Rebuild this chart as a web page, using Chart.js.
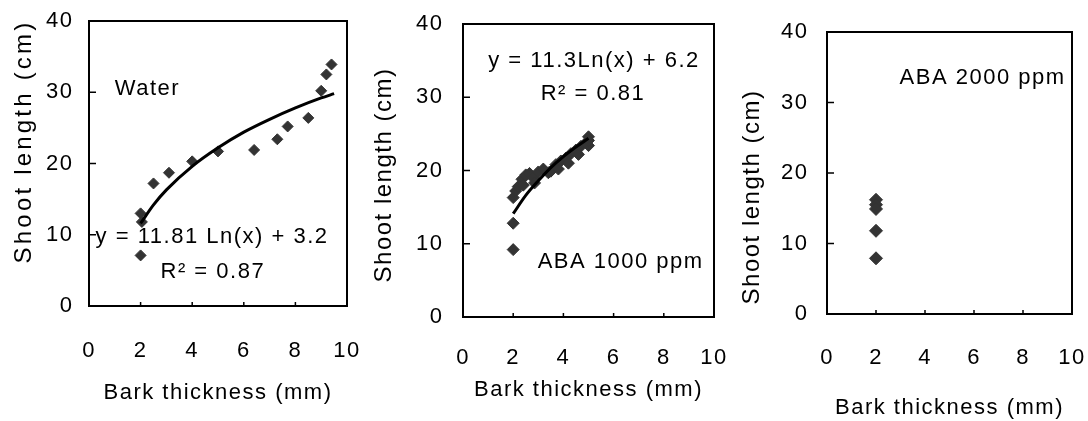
<!DOCTYPE html>
<html><head><meta charset="utf-8">
<script src="https://cdn.jsdelivr.net/npm/chart.js@4.4.1/dist/chart.umd.min.js"></script>
<style>
html,body{margin:0;padding:0;background:#fff;width:1088px;height:421px;overflow:hidden}
.p{position:absolute;top:0}
</style></head><body>
<canvas id="c1" class="p" style="left:0" width="370" height="421"></canvas>
<canvas id="c2" class="p" style="left:370px" width="360" height="421"></canvas>
<canvas id="c3" class="p" style="left:730px" width="358" height="421"></canvas>
<script>
// ---- data ----
const xTicks = [0, 2, 4, 6, 8, 10];
const yTicks = [0, 10, 20, 30, 40];
const xTitle = 'Bark thickness (mm)';
const yTitle = 'Shoot length (cm)';

const waterX = [2, 2, 2.05, 2.5, 3.1, 4.0, 5.0, 6.4, 7.3, 7.7, 8.5, 9.0, 9.2, 9.4];
const waterY = [13, 7.1, 11.8, 17.2, 18.7, 20.3, 21.7, 21.9, 23.4, 25.2, 26.4, 30.2, 32.5, 33.9];
const waterTrendX = [2, 2.5, 3, 4, 5, 6, 7, 8, 9, 9.5];
const waterTrendY = [11.6, 14.2, 16.3, 19.6, 22.2, 24.4, 26.2, 27.8, 29.2, 29.8];

const aba1000X = [2, 2, 2, 2.1, 2.2, 2.35, 2.4, 2.5, 2.65, 2.8, 2.85, 3.0, 3.2, 3.4, 3.5, 3.7, 3.8, 3.9, 4.1, 4.2, 4.3, 4.5, 4.6, 4.7, 4.9, 5.0, 5.0, 5.0];
const aba1000Y = [9.2, 12.8, 16.3, 17.2, 17.8, 18.8, 18.0, 19.4, 19.6, 19.0, 18.3, 19.8, 20.2, 19.7, 19.9, 20.8, 20.2, 21.3, 21.7, 21.0, 22.3, 22.8, 22.2, 23.3, 23.8, 24.6, 23.4, 24.1];
const aba1000TrendX = [2, 2.5, 3, 3.5, 4, 4.5, 5];
const aba1000TrendY = [14.1, 16.6, 18.6, 20.4, 21.9, 23.2, 24.4];

const aba2000X = [2, 2, 2, 2, 2];
const aba2000Y = [16.2, 15.5, 14.9, 11.8, 7.9];

const notes1 = [
  {text: 'Water', x: 1.0, y: 30.5, align: 'left'},
  {text: 'y = 11.81 Ln(x) + 3.2', x: 4.77, y: 9.65, align: 'center'},
  {text: 'R² = 0.87', x: 4.8, y: 4.75, align: 'center'}
];
const notes2 = [
  {text: 'y = 11.3Ln(x) + 6.2', x: 5.22, y: 34.9, align: 'center'},
  {text: 'R² = 0.81', x: 5.18, y: 30.4, align: 'center'},
  {text: 'ABA 1000 ppm', x: 6.28, y: 7.5, align: 'center'}
];
const notes3 = [
  {text: 'ABA 2000 ppm', x: 6.35, y: 33.5, align: 'center'}
];

// ---- helpers ----
const FAM = "'Liberation Sans', Arial, sans-serif";
const pts = (xs, ys) => xs.map((x, i) => ({x, y: ys[i]}));
const MARK = '#333333';

const spacing = {
  id: 'spacing',
  beforeUpdate(c) { c.ctx.letterSpacing = '1.5px'; },
  beforeDraw(c) { c.ctx.letterSpacing = '1.5px'; }
};

const frame = {
  id: 'frame',
  beforeDatasetsDraw(c) {
    const {ctx, chartArea: a, scales: {x, y}} = c;
    ctx.save();
    ctx.strokeStyle = '#000';
    ctx.lineWidth = 2;
    ctx.strokeRect(a.left, a.top, a.right - a.left, a.bottom - a.top);
    ctx.lineWidth = 1.5;
    ctx.beginPath();
    x.ticks.forEach(t => {
      if (t.value > x.min && t.value < x.max) {
        const px = x.getPixelForValue(t.value);
        ctx.moveTo(px, a.bottom); ctx.lineTo(px, a.bottom - 4);
      }
    });
    y.ticks.forEach(t => {
      if (t.value > y.min && t.value < y.max) {
        const py = y.getPixelForValue(t.value);
        ctx.moveTo(a.left, py); ctx.lineTo(a.left + 7, py);
      }
    });
    ctx.stroke();
    ctx.restore();
  }
};

const notesPlugin = {
  id: 'notes',
  afterDatasetsDraw(c, args, opts) {
    const {ctx, scales: {x, y}} = c;
    ctx.save();
    ctx.fillStyle = '#000';
    ctx.font = '22px ' + FAM;
    ctx.textBaseline = 'middle';
    (opts.items || []).forEach(n => {
      ctx.textAlign = n.align;
      ctx.fillText(n.text, x.getPixelForValue(n.x), y.getPixelForValue(n.y));
    });
    ctx.restore();
  }
};

function makeChart(id, cfg) {
  const datasets = [];
  if (cfg.trendX) {
    datasets.push({
      data: pts(cfg.trendX, cfg.trendY), showLine: true, pointRadius: 0,
      borderColor: '#000', borderWidth: 3, cubicInterpolationMode: 'monotone', order: 0
    });
  }
  datasets.push({
    data: pts(cfg.x, cfg.y), pointStyle: 'rectRot', pointRadius: cfg.r,
    backgroundColor: MARK, borderColor: MARK, borderWidth: 1, order: 1
  });
  return new Chart(document.getElementById(id), {
    type: 'scatter',
    data: {datasets},
    options: {
      responsive: false, animation: false, events: [],
      layout: {autoPadding: false, padding: {left: 0, top: cfg.top, right: cfg.right, bottom: 0}},
      plugins: {legend: {display: false}, tooltip: {enabled: false}, notes: {items: cfg.notes}},
      scales: {
        x: {
          type: 'linear', min: 0, max: 10,
          afterBuildTicks: s => { s.ticks = xTicks.map(v => ({value: v})); },
          grid: {display: false, drawTicks: false}, border: {display: false},
          ticks: {padding: cfg.xPad, color: '#000', font: {family: FAM, size: 22}},
          title: {display: true, text: xTitle, color: '#000', font: {family: FAM, size: 22}, padding: {top: 0, bottom: cfg.xtb}},
          afterFit: s => { s.height = cfg.xh; s.paddingLeft = 0; s.paddingRight = 0; }
        },
        y: {
          type: 'linear', min: 0, max: 40,
          afterBuildTicks: s => { s.ticks = yTicks.map(v => ({value: v})); },
          grid: {display: false, drawTicks: false}, border: {display: false},
          ticks: {padding: cfg.yPad, color: '#000', font: {family: FAM, size: 22}},
          title: {display: true, text: yTitle, color: '#000', font: {family: FAM, size: 24}, padding: {top: cfg.ytp, bottom: 0}},
          afterFit: s => {
            s.width = cfg.yw; s.paddingTop = 0; s.paddingBottom = 0;
            if (!s._titleWrapped) {
              s._titleWrapped = true;
              const base = Object.getPrototypeOf(s).drawTitle;
              s.drawTitle = function () {
                const ctx = this.ctx;
                ctx.save();
                ctx.letterSpacing = cfg.ytSpacing;
                ctx.translate(0, cfg.ytShift);
                base.call(this);
                ctx.restore();
              };
            }
          }
        }
      }
    },
    plugins: [spacing, frame, notesPlugin]
  });
}

makeChart('c1', {x: waterX, y: waterY, trendX: waterTrendX, trendY: waterTrendY, notes: notes1, r: 5.5,
  top: 21, right: 23, yw: 89, xh: 421 - 306, xPad: 32, xtb: 14.5, yPad: 15.5, ytp: 9.6, ytSpacing: '3.2px', ytShift: -22});
makeChart('c2', {x: aba1000X, y: aba1000Y, trendX: aba1000TrendX, trendY: aba1000TrendY, notes: notes2, r: 6,
  top: 24, right: 16, yw: 93, xh: 421 - 317, xPad: 28, xtb: 17.8, yPad: 19.5, ytp: 0, ytSpacing: '1.5px', ytShift: 4.5});
makeChart('c3', {x: aba2000X, y: aba2000Y, notes: notes3, r: 6.5,
  top: 32, right: 16, yw: 97, xh: 421 - 314, xPad: 31, xtb: 0, yPad: 18.5, ytp: 7.6, ytSpacing: '1.5px', ytShift: 24});
</script>
</body></html>
